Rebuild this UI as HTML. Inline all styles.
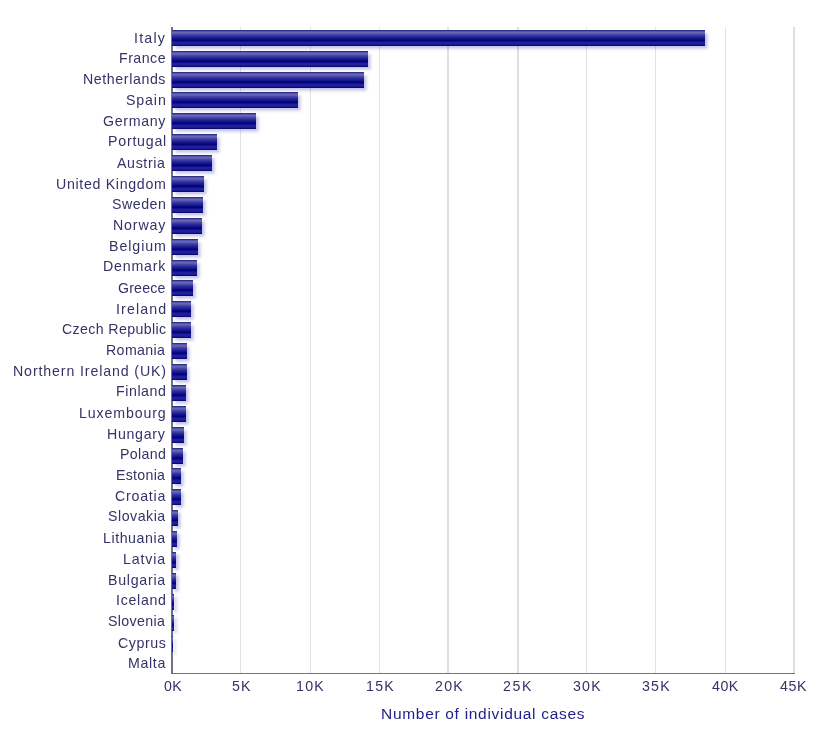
<!DOCTYPE html>
<html><head><meta charset="utf-8"><title>Number of individual cases</title>
<style>
html,body{margin:0;padding:0;background:#fff;}
body{width:817px;height:738px;position:relative;overflow:hidden;font-family:"Liberation Sans",sans-serif;}
.g{position:absolute;top:27.0px;width:2px;height:646.0px;background:#e0e0e0;}
.ax{position:absolute;background:#70708c;}
.b{position:absolute;left:172.0px;height:16.0px;
 background:linear-gradient(to bottom,#2a2a80 0%,#2e2e88 3%,#5252aa 9%,#6868b8 16%,#5a5ab0 22%,#4040a4 31%,#2c2c9c 40%,#1a1a8e 50%,#0a0a82 59%,#000078 65%,#101090 71%,#1e1e9c 78%,#20209c 85%,#1a1a90 91%,#0a0a68 97%,#0a0a68 100%);
 box-shadow:2.5px 2.5px 3px rgba(80,80,185,0.36);}
.l{position:absolute;white-space:nowrap;color:#343468;font-size:14.2px;line-height:20px;height:20px;will-change:transform;}
.t{position:absolute;top:676px;white-space:nowrap;color:#343468;font-size:14.2px;line-height:20px;will-change:transform;}
.ti{position:absolute;top:704px;white-space:nowrap;color:#1e1e8a;font-size:15.5px;line-height:20px;will-change:transform;}
</style></head><body>

<div class="g" style="left:240px;width:1px;background:#e2e2e2"></div>
<div class="g" style="left:310px;width:1px;background:#e2e2e2"></div>
<div class="g" style="left:379px;width:1px;background:#e2e2e2"></div>
<div class="g" style="left:447px;width:2px;background:#dfdfdf"></div>
<div class="g" style="left:517px;width:2px;background:#dfdfdf"></div>
<div class="g" style="left:586px;width:1px;background:#e2e2e2"></div>
<div class="g" style="left:655px;width:1px;background:#e2e2e2"></div>
<div class="g" style="left:725px;width:1px;background:#e2e2e2"></div>
<div class="g" style="left:793px;width:2px;background:#dfdfdf"></div>
<div class="ax" style="left:171px;top:27.0px;width:2px;height:647.0px"></div>
<div class="ax" style="left:171px;top:672.5px;width:624.2px;height:1.5px"></div>
<div class="b" style="top:29.75px;width:533.00px"></div>
<div class="b" style="top:50.64px;width:195.70px"></div>
<div class="b" style="top:71.53px;width:192.20px"></div>
<div class="b" style="top:92.42px;width:126.00px"></div>
<div class="b" style="top:113.31px;width:83.70px"></div>
<div class="b" style="top:134.20px;width:44.60px"></div>
<div class="b" style="top:155.09px;width:39.90px"></div>
<div class="b" style="top:175.98px;width:31.90px"></div>
<div class="b" style="top:196.87px;width:30.70px"></div>
<div class="b" style="top:217.76px;width:29.60px"></div>
<div class="b" style="top:238.65px;width:25.70px"></div>
<div class="b" style="top:259.54px;width:24.90px"></div>
<div class="b" style="top:280.43px;width:20.90px"></div>
<div class="b" style="top:301.32px;width:18.60px"></div>
<div class="b" style="top:322.21px;width:18.60px"></div>
<div class="b" style="top:343.10px;width:14.80px"></div>
<div class="b" style="top:363.99px;width:14.80px"></div>
<div class="b" style="top:384.88px;width:13.50px"></div>
<div class="b" style="top:405.77px;width:13.50px"></div>
<div class="b" style="top:426.66px;width:12.10px"></div>
<div class="b" style="top:447.55px;width:10.90px"></div>
<div class="b" style="top:468.44px;width:8.70px"></div>
<div class="b" style="top:489.33px;width:8.70px"></div>
<div class="b" style="top:510.22px;width:6.00px"></div>
<div class="b" style="top:531.11px;width:4.80px"></div>
<div class="b" style="top:552.00px;width:3.60px"></div>
<div class="b" style="top:572.89px;width:3.60px"></div>
<div class="b" style="top:593.78px;width:2.20px"></div>
<div class="b" style="top:614.67px;width:2.20px"></div>
<div class="b" style="top:635.56px;width:1.00px"></div>
<div class="l" id="l0" style="top:28.00px;left:134.00px;letter-spacing:1.205px">Italy</div>
<div class="l" id="l1" style="top:48.00px;left:119.00px;letter-spacing:0.473px">France</div>
<div class="l" id="l2" style="top:69.00px;left:83.00px;letter-spacing:0.596px">Netherlands</div>
<div class="l" id="l3" style="top:90.00px;left:126.00px;letter-spacing:0.874px">Spain</div>
<div class="l" id="l4" style="top:110.50px;left:103.00px;letter-spacing:0.677px">Germany</div>
<div class="l" id="l5" style="top:131.00px;left:108.00px;letter-spacing:0.772px">Portugal</div>
<div class="l" id="l6" style="top:153.00px;left:117.00px;letter-spacing:0.641px">Austria</div>
<div class="l" id="l7" style="top:173.50px;left:56.00px;letter-spacing:0.680px">United Kingdom</div>
<div class="l" id="l8" style="top:194.00px;left:112.00px;letter-spacing:0.521px">Sweden</div>
<div class="l" id="l9" style="top:215.00px;left:113.00px;letter-spacing:0.865px">Norway</div>
<div class="l" id="l10" style="top:236.00px;left:109.00px;letter-spacing:0.947px">Belgium</div>
<div class="l" id="l11" style="top:256.00px;left:103.00px;letter-spacing:0.792px">Denmark</div>
<div class="l" id="l12" style="top:278.00px;left:118.00px;letter-spacing:0.162px">Greece</div>
<div class="l" id="l13" style="top:299.00px;left:116.00px;letter-spacing:1.107px">Ireland</div>
<div class="l" id="l14" style="top:319.00px;left:62.00px;letter-spacing:0.368px">Czech Republic</div>
<div class="l" id="l15" style="top:340.00px;left:106.00px;letter-spacing:0.372px">Romania</div>
<div class="l" id="l16" style="top:361.00px;left:13.00px;letter-spacing:0.874px">Northern Ireland (UK)</div>
<div class="l" id="l17" style="top:381.00px;left:116.00px;letter-spacing:0.560px">Finland</div>
<div class="l" id="l18" style="top:403.00px;left:79.00px;letter-spacing:0.863px">Luxembourg</div>
<div class="l" id="l19" style="top:423.50px;left:107.00px;letter-spacing:0.697px">Hungary</div>
<div class="l" id="l20" style="top:444.00px;left:120.00px;letter-spacing:0.330px">Poland</div>
<div class="l" id="l21" style="top:465.00px;left:116.00px;letter-spacing:0.281px">Estonia</div>
<div class="l" id="l22" style="top:486.00px;left:115.00px;letter-spacing:0.765px">Croatia</div>
<div class="l" id="l23" style="top:506.00px;left:108.00px;letter-spacing:0.517px">Slovakia</div>
<div class="l" id="l24" style="top:527.50px;left:103.00px;letter-spacing:0.557px">Lithuania</div>
<div class="l" id="l25" style="top:549.00px;left:123.00px;letter-spacing:0.839px">Latvia</div>
<div class="l" id="l26" style="top:569.50px;left:108.00px;letter-spacing:0.742px">Bulgaria</div>
<div class="l" id="l27" style="top:590.00px;left:116.00px;letter-spacing:0.703px">Iceland</div>
<div class="l" id="l28" style="top:610.50px;left:108.00px;letter-spacing:0.365px">Slovenia</div>
<div class="l" id="l29" style="top:633.00px;left:118.00px;letter-spacing:0.598px">Cyprus</div>
<div class="l" id="l30" style="top:653.00px;left:128.00px;letter-spacing:0.663px">Malta</div>
<div class="t" id="t0" style="left:164.00px;letter-spacing:0.304px">0K</div>
<div class="t" id="t1" style="left:232.00px;letter-spacing:1.208px">5K</div>
<div class="t" id="t2" style="left:296.00px;letter-spacing:1.257px">10K</div>
<div class="t" id="t3" style="left:366.00px;letter-spacing:1.257px">15K</div>
<div class="t" id="t4" style="left:435.00px;letter-spacing:1.284px">20K</div>
<div class="t" id="t5" style="left:503.00px;letter-spacing:1.634px">25K</div>
<div class="t" id="t6" style="left:573.00px;letter-spacing:1.228px">30K</div>
<div class="t" id="t7" style="left:642.00px;letter-spacing:1.228px">35K</div>
<div class="t" id="t8" style="left:712.00px;letter-spacing:0.490px">40K</div>
<div class="t" id="t9" style="left:780.00px;letter-spacing:0.581px">45K</div>
<div class="ti" id="ti" style="left:381.00px;letter-spacing:0.696px">Number of individual cases</div>
</body></html>
